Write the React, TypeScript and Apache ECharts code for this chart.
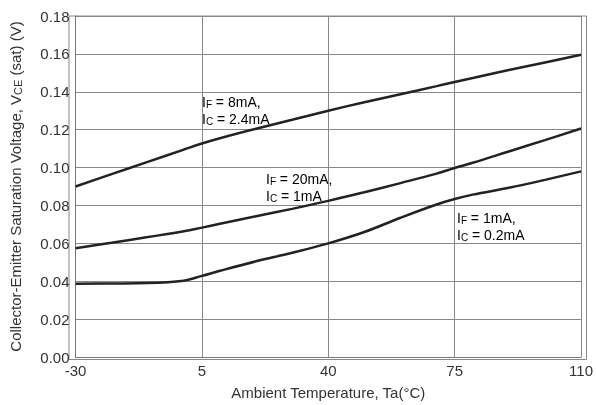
import React, { useEffect, useRef } from "react";
import * as echarts from "echarts";

const temps = [-30, -20, -10, 0, 5, 10, 20, 30, 40, 50, 60, 70, 75, 80, 90, 100, 110];
const vceIf8 = [0.09, 0.0965, 0.103, 0.1095, 0.1127, 0.1155, 0.1205, 0.1252, 0.13, 0.1345, 0.1387, 0.143, 0.1452, 0.1473, 0.1515, 0.1555, 0.1595];
const vceIf20 = [0.0574, 0.0603, 0.0633, 0.0664, 0.0683, 0.0703, 0.0743, 0.0782, 0.0824, 0.087, 0.0918, 0.0968, 0.0998, 0.1025, 0.1085, 0.1145, 0.1206];
const vceIf1 = [0.0387, 0.0388, 0.039, 0.0403, 0.0428, 0.0455, 0.0505, 0.055, 0.06, 0.066, 0.0735, 0.0805, 0.0834, 0.0857, 0.0893, 0.0935, 0.098];
const xMin = -30;
const xMax = 110;
const xStep = 35;
const yMax = 0.18;
const yStep = 0.02;

const FONT = '"Liberation Sans", Arial, sans-serif';
const TXT = "#333";

export default function App() {
  const ref = useRef<HTMLDivElement>(null);
  useEffect(() => {
    if (!ref.current) return;
    document.body.style.margin = "0";
    document.body.style.overflow = "hidden";
    const chart = echarts.init(ref.current, undefined, { renderer: "svg" });
    const toPts = (vals: number[]) => temps.map((t, i) => [t - xMin, vals[i]]);
    const lineSeries = (vals: number[]) => ({
      type: "line",
      data: toPts(vals),
      smooth: 0.4,
      showSymbol: false,
      lineStyle: { color: "#222", width: 2.5 },
    });
    const rich = {
      n: { fontSize: 14, fontFamily: FONT, color: TXT },
      s: { fontSize: 10, fontFamily: FONT, color: TXT, padding: [6, 0, 0, 0] },
    };
    const label = (x: number, y: number, sub1: string, v1: string, sub2: string, v2: string) => ({
      type: "text",
      left: x,
      top: y,
      style: {
        text: `{n|I}{s|${sub1}}{n| = ${v1}}\n{n|I}{s|${sub2}}{n| = ${v2}}`,
        rich,
        lineHeight: 17,
      },
    });
    chart.setOption({
      animation: false,
      grid: { left: 69, right: 9.5, top: 16, bottom: 45.5 },
      xAxis: {
        type: "value",
        min: 0,
        max: xMax - xMin,
        interval: xStep,
        name: "Ambient Temperature, Ta(\u00b0C)",
        nameLocation: "middle",
        nameGap: 28,
        nameTextStyle: { fontFamily: FONT, fontSize: 15, color: TXT },
        axisLine: { lineStyle: { color: "#777", width: 1 } },
        axisTick: { show: false },
        axisLabel: {
          fontFamily: FONT,
          fontSize: 15,
          color: TXT,
          margin: 6,
          formatter: (v: number) => String(v + xMin),
        },
        splitLine: { show: true, lineStyle: { color: "#888", width: 1 } },
      },
      yAxis: {
        type: "value",
        min: 0,
        max: yMax,
        interval: yStep,
        name: "{a|Collector-Emitter Saturation Voltage, V}{b|CE}{a| (sat) (V)}",
        nameLocation: "middle",
        nameGap: 52,
        nameRotate: 90,
        nameTextStyle: {
          rich: {
            a: { fontFamily: FONT, fontSize: 15, color: TXT },
            b: { fontFamily: FONT, fontSize: 11, color: TXT, padding: [5, 0, 0, 0] },
          },
        },
        axisLine: { show: true, lineStyle: { color: "#777", width: 1 } },
        axisTick: { show: false },
        axisLabel: {
          fontFamily: FONT,
          fontSize: 15,
          color: TXT,
          margin: 6,
          formatter: (v: number) => v.toFixed(2),
        },
        splitLine: { show: true, lineStyle: { color: "#888", width: 1 } },
      },
      graphic: [
        {
          type: "rect",
          shape: { x: 69, y: 16, width: 517.5, height: 343.5 },
          style: { fill: "none", stroke: "#888", lineWidth: 1 },
          silent: true,
        },
        label(202, 93, "F", "8mA,", "C", "2.4mA"),
        label(266, 170, "F", "20mA,", "C", "1mA"),
        label(457, 209, "F", "1mA,", "C", "0.2mA"),
      ],
      series: [lineSeries(vceIf8), lineSeries(vceIf20), lineSeries(vceIf1)],
    });
    return () => chart.dispose();
  }, []);
  return (
    <div
      ref={ref}
      style={{ position: "fixed", left: 0, top: 0, width: 596, height: 405 }}
    />
  );
}
